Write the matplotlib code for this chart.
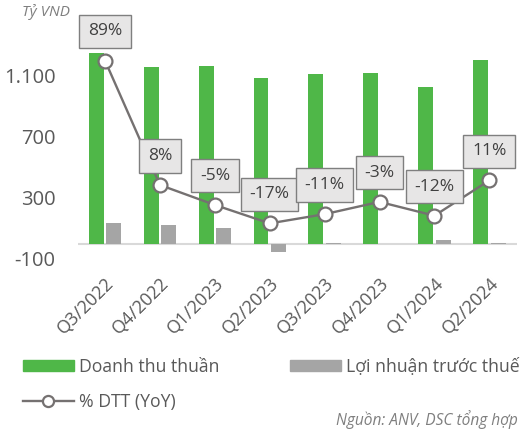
import matplotlib
matplotlib.use("Agg")
import matplotlib.pyplot as plt
from matplotlib.patches import Patch
from matplotlib.lines import Line2D
import numpy as np

plt.rcParams['font.family'] = ['Open Sans', 'DejaVu Sans']

quarters = ["Q3/2022", "Q4/2022", "Q1/2023", "Q2/2023", "Q3/2023", "Q4/2023", "Q1/2024", "Q2/2024"]
doanh_thu = [1244, 1153, 1161, 1081, 1107, 1115, 1024, 1200]
loi_nhuan = [135, 124, 104, -54, 4, 1, 26, 2]
dtt_yoy = [89, 8, -5, -17, -11, -3, -12, 11]

green = "#4FB748"
grey_bar = "#A5A5A5"
line_col = "#757171"
txt_col = "#595959"

fig = plt.figure(figsize=(5.31, 4.32), dpi=100)
ax = fig.add_axes([0.1461, 0.4005, 0.8271, 0.4968])
ax2 = ax.twinx()

x = np.arange(len(quarters))
w = 0.273
ax.bar(x - 0.159, doanh_thu, w, color=green, zorder=2)
ax.bar(x + 0.159, loi_nhuan, w, color=grey_bar, zorder=2)
ax.axhline(0, color="#D9D9D9", lw=1.5, zorder=1)

ax.set_xlim(-0.5, 7.5)
ax.set_ylim(-100, 1300)
ax.set_yticks([-100, 300, 700, 1100])
ax.set_yticklabels(["-100", "300", "700", "1.100"])
ax.tick_params(axis='y', length=0, labelsize=14.5, colors=txt_col, pad=16)
ax.set_xticks(x)
ax.set_xticklabels(quarters, rotation=45, ha='right', rotation_mode='anchor')
ax.tick_params(axis='x', length=0, labelsize=13, colors=txt_col, pad=11)
for s in ax.spines.values():
    s.set_visible(False)
for s in ax2.spines.values():
    s.set_visible(False)

ax2.plot(x, dtt_yoy, color=line_col, lw=1.7, marker='o', markersize=10,
         markerfacecolor='white', markeredgecolor=line_col, markeredgewidth=1.6, zorder=3)
ax2.set_ylim(-40.2, 99.6)
ax2.set_yticks([])
for xi, v in zip(x, dtt_yoy):
    ax2.annotate("%d%%" % v, (xi, v), xytext=(0, 21), textcoords='offset points',
                 ha='center', va='center', fontsize=12.5, color="#404040",
                 bbox=dict(boxstyle="square,pad=0.5", fc="#E7E6E6", ec="#7F7F7F", lw=1))

handles = [Patch(color=green), Line2D([0], [0], color=line_col, lw=1.7, marker='o', markersize=8,
                                      markerfacecolor='white', markeredgewidth=1.6),
           Patch(color=grey_bar)]
labels = ["Doanh thu thuần", "% DTT (YoY)", "Lợi nhuận trước thuế"]
fig.legend(handles, labels, ncol=2, loc='upper left', bbox_to_anchor=(0.043, 0.172),
           bbox_transform=fig.transFigure, frameon=False, fontsize=12.7, labelcolor=txt_col,
           handlelength=2.9, handleheight=0.58, handletextpad=0.28, columnspacing=4.0,
           labelspacing=0.98, borderaxespad=0, borderpad=0)

fig.text(0.041, 0.972, "Tỷ VND", fontsize=11, style='italic', color="#7F7F7F", va='center')
fig.text(0.976, 0.028, "Nguồn: ANV, DSC tổng hợp", fontsize=11.2, style='italic',
         color="#7F7F7F", ha='right', va='center')

fig.savefig("out.png", dpi=100)
